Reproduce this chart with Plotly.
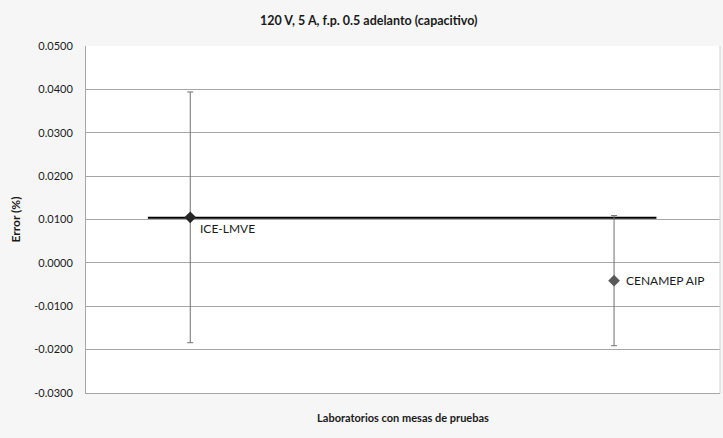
import plotly.graph_objects as go

# Laboratories compared and their measured errors (%) with expanded uncertainties
labs = ["ICE-LMVE", "CENAMEP AIP"]
error_pct = [0.0105, -0.0041]
uncertainty = [0.0289, 0.0150]
marker_colors = ["#262626", "#595959"]
reference_value = 0.0104
reference_span = [-0.1, 1.1]

y_ticks = [0.05, 0.04, 0.03, 0.02, 0.01, 0.0, -0.01, -0.02, -0.03]

FONT = "Lato, Carlito, Calibri, sans-serif"

fig = go.Figure()

# Reference value across both laboratories
fig.add_trace(go.Scatter(
    x=reference_span, y=[reference_value] * 2, mode="lines",
    line=dict(color="#000000", width=2.2), hoverinfo="skip", showlegend=False,
))

# One trace per laboratory: diamond marker with vertical error bar
for i, (lab, val, unc, col) in enumerate(zip(labs, error_pct, uncertainty, marker_colors)):
    fig.add_trace(go.Scatter(
        x=[i], y=[val], mode="markers", name=lab,
        marker=dict(symbol="diamond", size=9, color=col),
        error_y=dict(type="data", array=[unc], visible=True,
                     color="#707070", thickness=1, width=3),
        showlegend=False,
    ))

# Point labels
fig.add_annotation(x=0, y=error_pct[0], text=labs[0], showarrow=False,
                   xanchor="left", yanchor="middle", xshift=8, yshift=-11,
                   font=dict(family=FONT, size=12, color="#1a1a1a"))
fig.add_annotation(x=1, y=error_pct[1], text=labs[1], showarrow=False,
                   xanchor="left", yanchor="middle", xshift=10, yshift=0,
                   font=dict(family=FONT, size=12, color="#1a1a1a"))

fig.update_layout(
    width=723, height=438,
    margin=dict(l=86, r=3, t=46, b=45),
    paper_bgcolor="#f6f6f6",
    plot_bgcolor="#ffffff",
    font=dict(family=FONT, size=11, color="#1a1a1a"),
    title=dict(text="<b>120 V, 5 A, f.p. 0.5 adelanto (capacitivo)</b>",
               x=0.51, xanchor="center", y=0.953, yanchor="middle",
               font=dict(family=FONT, size=12.5, color="#1a1a1a")),
    xaxis=dict(range=[-0.246, 1.25], showticklabels=False, showgrid=False,
               zeroline=False, showline=True, linecolor="#a6a6a6", linewidth=1,
               mirror=False,
               title=dict(text="<b>Laboratorios con mesas de pruebas</b>",
                          font=dict(family=FONT, size=11), standoff=21)),
    yaxis=dict(range=[-0.03, 0.05], tickvals=y_ticks,
               ticktext=[f"{v:.4f}" for v in y_ticks],
               showgrid=True, gridcolor="#a6a6a6", gridwidth=1,
               zeroline=False, showline=True, linecolor="#a6a6a6", linewidth=1,
               ticks="", ticklabelstandoff=10,
               tickfont=dict(family=FONT, size=11, color="#1a1a1a"),
               title=dict(text="<b>Error (%)</b>", font=dict(family=FONT, size=12),
                          standoff=11)),
)

# Right border of the plot area
fig.add_shape(type="line", xref="paper", yref="paper", x0=1, x1=1, y0=0, y1=1,
              line=dict(color="#d0d0d0", width=1))

fig.write_html("out.html")
